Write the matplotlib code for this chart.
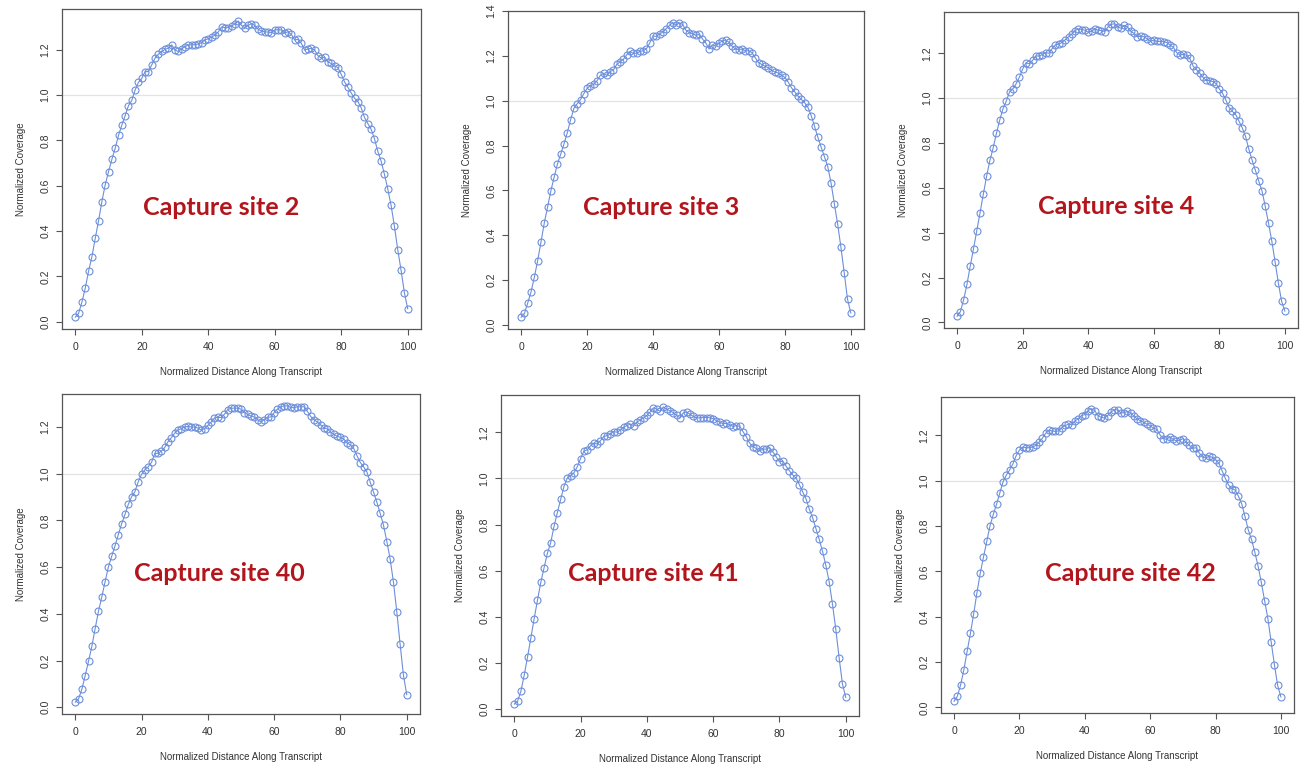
import numpy as np
import matplotlib
matplotlib.use("Agg")
import matplotlib.pyplot as plt
from matplotlib.ticker import FormatStrFormatter

plt.rcParams['font.family'] = ['Liberation Sans', 'DejaVu Sans']

distance = list(range(0, 101))

site_2 = [0.020, 0.037, 0.087, 0.148, 0.223, 0.287, 0.368, 0.445, 0.530, 0.604,
          0.662, 0.716, 0.765, 0.822, 0.867, 0.909, 0.953, 0.976, 1.022, 1.056,
          1.073, 1.103, 1.103, 1.133, 1.163, 1.180, 1.192, 1.201, 1.207, 1.221,
          1.198, 1.192, 1.204, 1.213, 1.221, 1.221, 1.222, 1.225, 1.231, 1.243,
          1.248, 1.255, 1.264, 1.278, 1.300, 1.297, 1.297, 1.305, 1.312, 1.327,
          1.307, 1.296, 1.307, 1.315, 1.307, 1.290, 1.282, 1.278, 1.278, 1.275,
          1.287, 1.288, 1.287, 1.273, 1.279, 1.267, 1.243, 1.245, 1.228, 1.198,
          1.203, 1.206, 1.198, 1.173, 1.163, 1.166, 1.146, 1.139, 1.128, 1.121,
          1.091, 1.058, 1.034, 1.009, 0.986, 0.971, 0.944, 0.901, 0.874, 0.849,
          0.807, 0.752, 0.708, 0.650, 0.586, 0.513, 0.421, 0.318, 0.227, 0.128,
          0.057]

site_3 = [0.034, 0.052, 0.098, 0.148, 0.213, 0.287, 0.369, 0.454, 0.525, 0.598,
          0.659, 0.718, 0.762, 0.808, 0.858, 0.915, 0.967, 0.987, 1.005, 1.032,
          1.055, 1.067, 1.073, 1.089, 1.113, 1.122, 1.113, 1.130, 1.138, 1.162,
          1.174, 1.185, 1.205, 1.220, 1.212, 1.212, 1.220, 1.223, 1.232, 1.258,
          1.289, 1.287, 1.298, 1.307, 1.322, 1.337, 1.348, 1.337, 1.348, 1.340,
          1.314, 1.304, 1.299, 1.292, 1.296, 1.276, 1.258, 1.231, 1.250, 1.243,
          1.258, 1.266, 1.272, 1.261, 1.243, 1.231, 1.228, 1.231, 1.223, 1.223,
          1.215, 1.192, 1.170, 1.162, 1.154, 1.147, 1.136, 1.128, 1.124, 1.113,
          1.104, 1.083, 1.058, 1.040, 1.020, 1.006, 0.991, 0.970, 0.933, 0.886,
          0.837, 0.793, 0.750, 0.706, 0.633, 0.541, 0.450, 0.346, 0.232, 0.114,
          0.053]

site_4 = [0.027, 0.048, 0.101, 0.169, 0.251, 0.328, 0.409, 0.489, 0.572, 0.652,
          0.722, 0.778, 0.843, 0.902, 0.953, 0.987, 1.028, 1.041, 1.064, 1.094,
          1.130, 1.158, 1.153, 1.168, 1.188, 1.188, 1.194, 1.203, 1.200, 1.221,
          1.238, 1.241, 1.248, 1.261, 1.274, 1.286, 1.301, 1.309, 1.306, 1.303,
          1.294, 1.298, 1.309, 1.303, 1.301, 1.297, 1.317, 1.329, 1.332, 1.317,
          1.312, 1.324, 1.317, 1.298, 1.289, 1.274, 1.276, 1.274, 1.264, 1.253,
          1.259, 1.253, 1.253, 1.252, 1.248, 1.236, 1.226, 1.203, 1.192, 1.195,
          1.192, 1.177, 1.143, 1.127, 1.112, 1.093, 1.079, 1.078, 1.074, 1.065,
          1.041, 1.021, 0.991, 0.958, 0.941, 0.926, 0.897, 0.867, 0.829, 0.772,
          0.723, 0.678, 0.631, 0.587, 0.518, 0.443, 0.363, 0.271, 0.176, 0.094,
          0.050]

site_40 = [0.022, 0.036, 0.078, 0.136, 0.197, 0.261, 0.337, 0.411, 0.472, 0.538,
           0.601, 0.647, 0.692, 0.740, 0.786, 0.826, 0.869, 0.902, 0.924, 0.966,
           0.998, 1.017, 1.030, 1.049, 1.087, 1.088, 1.097, 1.113, 1.138, 1.155,
           1.174, 1.188, 1.193, 1.201, 1.203, 1.201, 1.200, 1.196, 1.187, 1.193,
           1.207, 1.222, 1.239, 1.242, 1.241, 1.255, 1.275, 1.281, 1.281, 1.281,
           1.277, 1.262, 1.254, 1.248, 1.243, 1.232, 1.222, 1.232, 1.243, 1.243,
           1.262, 1.277, 1.287, 1.291, 1.291, 1.284, 1.283, 1.287, 1.287, 1.287,
           1.268, 1.246, 1.232, 1.222, 1.210, 1.196, 1.193, 1.178, 1.169, 1.161,
           1.156, 1.149, 1.132, 1.124, 1.109, 1.077, 1.048, 1.030, 1.007, 0.963,
           0.921, 0.878, 0.830, 0.779, 0.710, 0.634, 0.535, 0.409, 0.270, 0.138,
           0.054]

site_41 = [0.022, 0.034, 0.078, 0.147, 0.226, 0.308, 0.392, 0.472, 0.549, 0.613,
           0.676, 0.722, 0.792, 0.852, 0.909, 0.965, 1.002, 1.012, 1.024, 1.050,
           1.086, 1.118, 1.124, 1.141, 1.153, 1.149, 1.163, 1.182, 1.185, 1.193,
           1.203, 1.200, 1.210, 1.222, 1.229, 1.235, 1.229, 1.244, 1.254, 1.262,
           1.273, 1.288, 1.306, 1.300, 1.291, 1.310, 1.300, 1.292, 1.285, 1.273,
           1.263, 1.284, 1.288, 1.278, 1.269, 1.262, 1.263, 1.264, 1.264, 1.263,
           1.259, 1.250, 1.244, 1.237, 1.239, 1.232, 1.225, 1.229, 1.226, 1.203,
           1.181, 1.153, 1.138, 1.130, 1.119, 1.127, 1.127, 1.134, 1.115, 1.094,
           1.072, 1.075, 1.053, 1.033, 1.015, 1.002, 0.973, 0.942, 0.912, 0.867,
           0.830, 0.783, 0.736, 0.684, 0.623, 0.552, 0.455, 0.346, 0.223, 0.110,
           0.051]

site_42 = [0.027, 0.049, 0.099, 0.166, 0.248, 0.326, 0.413, 0.506, 0.591, 0.663,
           0.732, 0.801, 0.851, 0.896, 0.946, 0.995, 1.025, 1.047, 1.074, 1.110,
           1.134, 1.148, 1.145, 1.145, 1.148, 1.155, 1.169, 1.187, 1.208, 1.222,
           1.219, 1.217, 1.219, 1.234, 1.243, 1.248, 1.246, 1.264, 1.272, 1.287,
           1.291, 1.309, 1.317, 1.309, 1.287, 1.279, 1.276, 1.287, 1.302, 1.312,
           1.312, 1.299, 1.299, 1.305, 1.299, 1.284, 1.272, 1.264, 1.257, 1.249,
           1.242, 1.230, 1.227, 1.202, 1.185, 1.182, 1.193, 1.182, 1.175, 1.178,
           1.185, 1.170, 1.155, 1.142, 1.145, 1.122, 1.104, 1.100, 1.107, 1.103,
           1.092, 1.077, 1.043, 1.010, 0.980, 0.965, 0.958, 0.931, 0.898, 0.842,
           0.783, 0.741, 0.685, 0.624, 0.551, 0.471, 0.392, 0.290, 0.189, 0.097,
           0.046]

sites = ["Capture site 2", "Capture site 3", "Capture site 4",
         "Capture site 40", "Capture site 41", "Capture site 42"]
coverage = [site_2, site_3, site_4, site_40, site_41, site_42]

# axes boxes in pixels: left, right, top, bottom
boxes = [(62, 421, 9, 329), (508, 864, 11, 329), (944, 1298, 12, 328),
         (62, 420, 394, 714), (501, 859, 395, 716), (941, 1294, 397, 713)]
label_pos = [(0.443, 0.381), (0.431, 0.383), (0.485, 0.383),
             (0.439, 0.440), (0.427, 0.445), (0.536, 0.443)]

W, H = 1300, 766
fig = plt.figure(figsize=(W / 100, H / 100), dpi=100)

line_col = "#6d8fdb"
box_col = "#555555"
txt_col = "#333333"

for i in range(6):
    l, r, t, b = boxes[i]
    ax = fig.add_axes([l / W, 1 - b / H, (r - l) / W, (b - t) / H])
    y = coverage[i]
    ax.plot(distance, y, color=line_col, lw=0.8, marker='o', ms=5,
            mfc='none', mec=line_col, mew=0.8)
    ax.axhline(1.0, color="#e3e3e3", lw=0.9, zorder=0)

    ax.set_xticks([0, 20, 40, 60, 80, 100])
    ax.set_yticks([0.0, 0.2, 0.4, 0.6, 0.8, 1.0, 1.2, 1.4])
    # R style limits: data range plus 4% each side (set after ticks)
    lo, hi = min(y), max(y)
    pad = 0.04 * (hi - lo)
    ax.set_ylim(lo - pad, hi + pad)
    ax.set_xlim(-4, 104)
    ax.yaxis.set_major_formatter(FormatStrFormatter('%.1f'))
    ax.tick_params(axis='both', colors=box_col, labelcolor=txt_col,
                   labelsize=7.5, length=4.5, width=0.8, pad=5)
    ax.tick_params(axis='y', labelrotation=90, pad=4)
    for lab in ax.get_yticklabels():
        lab.set_va('center')
    for s in ax.spines.values():
        s.set_color(box_col)
        s.set_linewidth(0.9)

    ax.set_xlabel("Normalized Distance Along Transcript", fontsize=7, color=txt_col)
    ax.set_ylabel("Normalized Coverage", fontsize=7, color=txt_col)
    ax.xaxis.set_label_coords(0.5, -38 / (b - t))
    ax.yaxis.set_label_coords(-36 / (r - l), 0.5)

    ax.text(label_pos[i][0], label_pos[i][1], sites[i], transform=ax.transAxes,
            ha='center', va='center', fontsize=18, fontweight='bold',
            family=['Lato', 'DejaVu Sans'], color="#b3151c")

plt.savefig("out.png", dpi=100)
plt.close()
